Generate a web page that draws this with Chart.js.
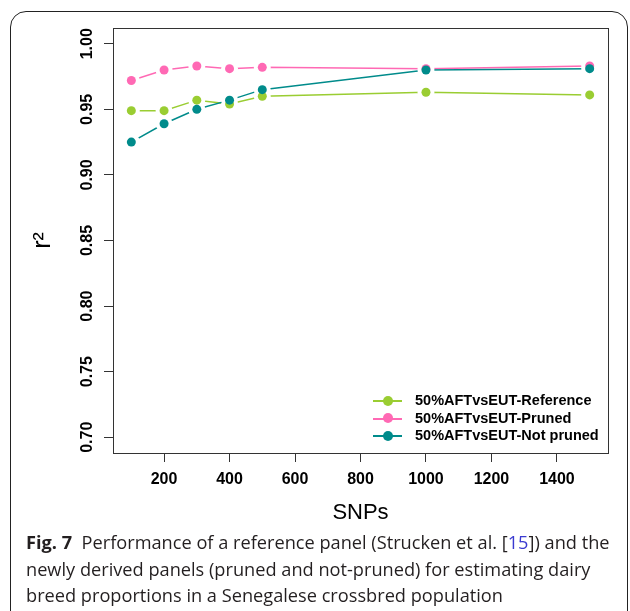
<!DOCTYPE html>
<html>
<head>
<meta charset="utf-8">
<script src="https://cdn.jsdelivr.net/npm/chart.js@4.4.0/dist/chart.umd.min.js"></script>
<style>
  html, body { margin: 0; padding: 0; background: #fff; }
  body { width: 630px; height: 611px; position: relative; overflow: hidden; }
  #frame {
    position: absolute; left: 10px; top: 11px; width: 618px; height: 700px;
    border: 1.5px solid #222; border-radius: 16px; box-sizing: border-box;
  }
  #wrap { position: absolute; left: 0; top: 0; width: 630px; height: 540px; }
  #legend { position: absolute; left: 373px; top: 392px; font: bold 14.5px "Liberation Sans", Arial, sans-serif; color: #000; }
  .row { position: relative; height: 17.5px; line-height: 17.5px; padding-left: 42px; white-space: nowrap; }
  .row .ln { position: absolute; left: 0; top: 8px; width: 29px; height: 2px; }
  .row .pt { position: absolute; left: 9.5px; top: 3.5px; width: 10px; height: 10px; border-radius: 50%; }
  #caption {
    position: absolute; left: 26px; top: 529px; width: 600px;
    font: 18.2px "Open Sans", sans-serif; line-height: 26.5px; color: #231f20; white-space: nowrap;
  }
  #caption b { font-weight: bold; }
  #caption .ref { color: #3a3ad0; }
</style>
</head>
<body>
<div id="frame"></div>
<div id="wrap"><canvas id="chart" width="630" height="540"></canvas></div>
<div id="legend"></div>
<div id="caption">
  <b>Fig. 7</b>&nbsp; Performance of a reference panel (Strucken et al. [<span class="ref">15</span>]) and the<br>
  newly derived panels (pruned and not-pruned) for estimating dairy<br>
  breed proportions in a Senegalese crossbred population
</div>
<script>
// data
const snps = [100, 200, 300, 400, 500, 1000, 1500];
const reference = [0.949, 0.949, 0.957, 0.954, 0.960, 0.963, 0.961];
const pruned    = [0.972, 0.980, 0.983, 0.981, 0.982, 0.981, 0.983];
const notPruned = [0.925, 0.939, 0.950, 0.957, 0.965, 0.980, 0.981];

const seriesNames  = ['50%AFTvsEUT-Reference', '50%AFTvsEUT-Pruned', '50%AFTvsEUT-Not pruned'];
const seriesColors = ['#9acd32', '#ff69b4', '#008b8b'];

const xTicks = [200, 400, 600, 800, 1000, 1200, 1400];
const yTicks = [0.70, 0.75, 0.80, 0.85, 0.90, 0.95, 1.00];

const GAP = 8.5; // R type="b" style gap round each point

const pts = (ys) => snps.map((x, i) => ({ x, y: ys[i] }));

// cut the line around its own points, then draw the points back on top
const gapPlugin = {
  id: 'gaps',
  beforeDatasetDraw(chart, args){
    const ctx = chart.ctx;
    ctx.save();
    ctx.beginPath();
    ctx.rect(0, 0, chart.width, chart.height);
    args.meta.data.forEach(p => {
      ctx.moveTo(p.x + GAP, p.y);
      ctx.arc(p.x, p.y, GAP, 0, Math.PI * 2);
    });
    ctx.clip('evenodd');
  },
  afterDatasetDraw(chart, args){
    chart.ctx.restore();
    args.meta.data.forEach(p => p.draw(chart.ctx, chart.chartArea));
  }
};

const boxPlugin = {
  id: 'box',
  afterDraw(chart){
    const a = chart.chartArea, ctx = chart.ctx;
    ctx.save();
    ctx.strokeStyle = '#333';
    ctx.lineWidth = 1;
    ctx.strokeRect(Math.round(a.left) + 0.5, Math.round(a.top) + 0.5, Math.round(a.right - a.left), Math.round(a.bottom - a.top));
    ctx.restore();
  }
};

const data = [reference, pruned, notPruned];
const datasets = data.map((ys, i) => ({
  label: seriesNames[i],
  data: pts(ys),
  borderColor: seriesColors[i],
  backgroundColor: seriesColors[i],
  borderWidth: 1.5,
  pointRadius: 4.5,
  pointBorderWidth: 0,
  pointBackgroundColor: seriesColors[i],
  order: 3 - i,
  tension: 0
}));

new Chart(document.getElementById('chart'), {
  type: 'line',
  data: { datasets },
  options: {
    responsive: false,
    animation: false,
    layout: { padding: { left: 0, top: 28, right: 22, bottom: 7 } },
    plugins: { legend: { display: false }, tooltip: { enabled: false } },
    scales: {
      x: {
        type: 'linear',
        min: 44, max: 1556,
        afterBuildTicks: s => { s.ticks = xTicks.map(v => ({ value: v })); },
        afterFit: s => { s.height = 80; },
        grid: { drawOnChartArea: false, drawTicks: true, tickLength: 9, color: '#333' },
        border: { display: false },
        ticks: {
          autoSkip: false, maxRotation: 0, padding: 8, color: '#000',
          font: { family: 'Liberation Sans', size: 16, weight: 'bold' },
          callback: v => String(v)
        },
        title: {
          display: true, text: 'SNPs', color: '#000',
          font: { family: 'Liberation Sans', size: 22 },
          padding: { top: 0, bottom: 7 }
        }
      },
      y: {
        type: 'linear',
        min: 0.688, max: 1.012,
        afterBuildTicks: s => { s.ticks = yTicks.map(v => ({ value: v })); },
        afterFit: s => { s.width = 113; },
        grid: { drawOnChartArea: false, drawTicks: true, tickLength: 9, color: '#333' },
        border: { display: false },
        ticks: {
          autoSkip: false, minRotation: 90, maxRotation: 90, crossAlign: 'center', padding: 1,
          color: '#000',
          font: { family: 'Liberation Sans', size: 16, weight: 'bold' },
          callback: v => Number(v).toFixed(2)
        },
        title: {
          display: true, text: 'r²', color: '#000',
          font: { family: 'Liberation Sans', size: 25 },
          padding: { top: 28, bottom: 0 }
        }
      }
    }
  },
  plugins: [gapPlugin, boxPlugin]
});

// legend like R's legend(lty=1, pch=19, bty="n")
document.getElementById('legend').innerHTML = seriesNames.map((n, i) => `
  <div class="row">
    <span class="ln" style="background:${seriesColors[i]}"></span>
    <span class="pt" style="background:${seriesColors[i]}"></span>${n}
  </div>`).join('');
</script>
</body>
</html>
